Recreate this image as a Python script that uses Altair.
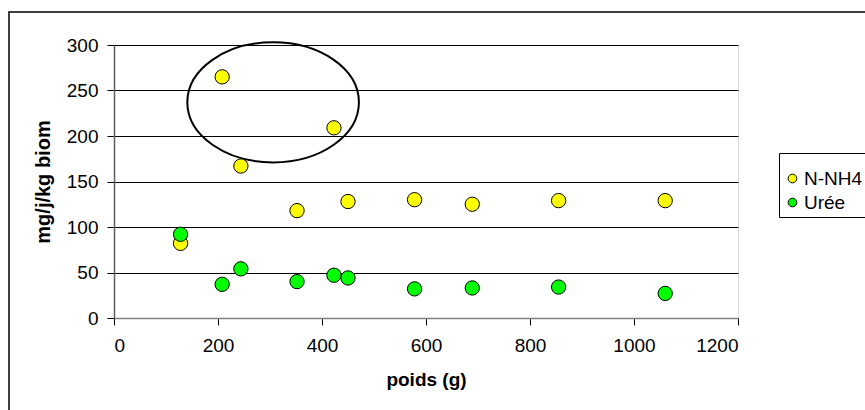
import altair as alt
import pandas as pd

# --- data ---
poids = [128, 208, 244, 352, 423, 450, 578, 689, 855, 1060]
nh4 = [82, 265, 167, 118, 209, 128, 130, 125, 129, 129]
uree = [92, 37, 54, 40, 47, 44, 32, 33, 34, 27]
series = ["N-NH4", "Urée"]
colors = ["#FFFF00", "#00FF00"]
x_ticks = [0, 200, 400, 600, 800, 1000, 1200]
y_ticks = [0, 50, 100, 150, 200, 250, 300]
ellipse_center_x = [306]
ellipse_center_y = [237]

rows = []
for p, v in zip(poids, nh4):
    rows.append({"poids": p, "valeur": v, "serie": series[0]})
for p, v in zip(poids, uree):
    rows.append({"poids": p, "valeur": v, "serie": series[1]})
df = pd.DataFrame(rows)

ell_df = pd.DataFrame({"poids": ellipse_center_x, "valeur": ellipse_center_y})

FONT = "Liberation Sans"
W, H = 624, 273

xscale = alt.Scale(domain=[0, 1200], nice=False, zero=False)
yscale = alt.Scale(domain=[0, 300], nice=False)

x_axis = alt.Axis(
    values=x_ticks, format="d", title="poids (g)", grid=False,
    domainColor="#808080", domainWidth=1.5,
    tickColor="#000000", tickSize=7, tickWidth=1,
    labelFontSize=19, labelPadding=11, labelColor="#000000", labelFont=FONT,
    titleFontSize=19, titleFontWeight="bold", titleFont=FONT, titleColor="#000000",
    titlePadding=15,
)
y_axis = alt.Axis(
    values=y_ticks, format="d", title="mg/j/kg biom", grid=True,
    gridColor="#000000", gridWidth=1,
    domainColor="#606060", domainWidth=1.5,
    tickColor="#000000", tickSize=7, tickWidth=1,
    labelFontSize=19, labelPadding=9, labelColor="#000000", labelFont=FONT,
    titleFontSize=20, titleFontWeight="bold", titleFont=FONT, titleColor="#000000",
    titlePadding=13,
)

# ellipse annotation drawn as a custom symbol (cubic-bezier ellipse, rx=1, ry=0.7)
ellipse_path = ("M -1 0 C -1 -0.3866 -0.5523 -0.7 0 -0.7 "
                "C 0.5523 -0.7 1 -0.3866 1 0 "
                "C 1 0.3866 0.5523 0.7 0 0.7 "
                "C -0.5523 0.7 -1 0.3866 -1 0 Z")

ellipse = alt.Chart(ell_df).mark_point(
    shape=ellipse_path, size=29450, filled=False, color="#000000",
    strokeWidth=2, opacity=1,
).encode(
    x=alt.X("poids:Q", scale=xscale, axis=x_axis),
    y=alt.Y("valeur:Q", scale=yscale, axis=y_axis),
)

points = alt.Chart(df).mark_point(
    shape="circle", filled=True, size=205, stroke="#000000", strokeWidth=1, opacity=1,
).encode(
    x=alt.X("poids:Q", scale=xscale, axis=x_axis),
    y=alt.Y("valeur:Q", scale=yscale, axis=y_axis),
    color=alt.Color(
        "serie:N",
        scale=alt.Scale(domain=series, range=colors),
        legend=alt.Legend(
            title=" ", titleFontSize=2, titlePadding=10,
            orient="none", legendX=665, legendY=108,
            strokeColor="#000000", padding=4, fillColor="#FFFFFF",
            symbolType="circle", symbolSize=75, symbolStrokeColor="#000000",
            symbolStrokeWidth=1, symbolOffset=0, labelFontSize=19, labelFont=FONT,
            labelColor="#000000", rowPadding=4, labelOffset=2,
        ),
    ),
    order=alt.Order("serie:N", sort="ascending"),
)

frame = alt.Chart(pd.DataFrame({"k": [0]})).mark_rect(
    fill=None, stroke="#000000", strokeWidth=1.5,
).encode(
    x=alt.value(-105), x2=alt.value(W + 200),
    y=alt.value(-33), y2=alt.value(H + 200),
)

chart = alt.layer(frame, ellipse, points).properties(
    width=W, height=H,
    autosize=alt.AutoSizeParams(type="none"),
    padding={"left": 114, "top": 45, "right": 865 - 114 - W, "bottom": 410 - 45 - H},
    background="#FFFFFF",
).configure_view(stroke=None).configure(font=FONT)

chart.save("out.html", embed_options={"renderer": "svg", "actions": False})
